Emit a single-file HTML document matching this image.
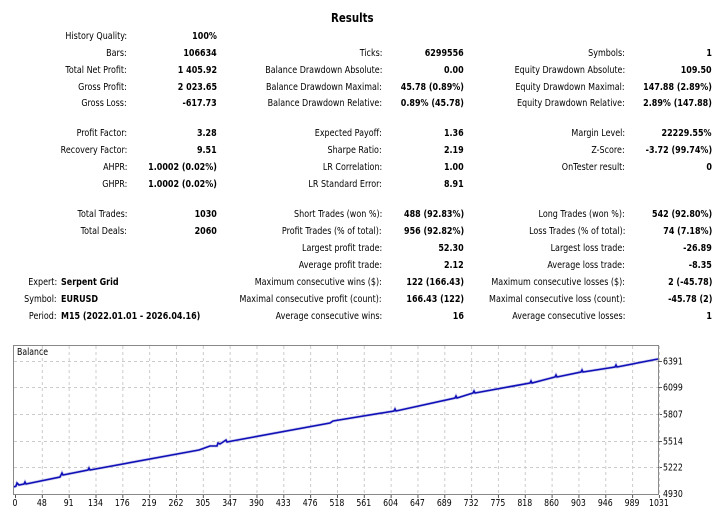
<!DOCTYPE html>
<html><head><meta charset="utf-8"><style>
body{margin:0;width:720px;height:517px;background:#fff;position:relative;overflow:hidden;font-family:"DejaVu Sans","Liberation Sans",sans-serif;color:#000}
.t{position:absolute;font-size:10px;white-space:nowrap;line-height:12px;transform:scaleX(0.8);transform-origin:right center}
.l{position:absolute;font-size:10px;white-space:nowrap;line-height:12px;transform:scaleX(0.8);transform-origin:left center}
.b{font-weight:bold}
</style></head><body>
<div style="position:absolute;left:331px;top:11px;font-size:12px;font-weight:bold;font-family:'DejaVu Sans',sans-serif;transform:scaleX(0.85);transform-origin:left">Results</div>
<div id="tx"></div>
<svg width="720" height="517" style="position:absolute;left:0;top:0">
<g id="g"></g>
</svg>
<script>
var rows=[
[31,"History Quality:","100%"],[48,"Bars:","106634","Ticks:","6299556","Symbols:","1"],
[65,"Total Net Profit:","1 405.92","Balance Drawdown Absolute:","0.00","Equity Drawdown Absolute:","109.50"],
[82,"Gross Profit:","2 023.65","Balance Drawdown Maximal:","45.78 (0.89%)","Equity Drawdown Maximal:","147.88 (2.89%)"],
[98,"Gross Loss:","-617.73","Balance Drawdown Relative:","0.89% (45.78)","Equity Drawdown Relative:","2.89% (147.88)"],
[128,"Profit Factor:","3.28","Expected Payoff:","1.36","Margin Level:","22229.55%"],
[145,"Recovery Factor:","9.51","Sharpe Ratio:","2.19","Z-Score:","-3.72 (99.74%)"],
[162,"AHPR:","1.0002 (0.02%)","LR Correlation:","1.00","OnTester result:","0"],
[179,"GHPR:","1.0002 (0.02%)","LR Standard Error:","8.91"],
[209,"Total Trades:","1030","Short Trades (won %):","488 (92.83%)","Long Trades (won %):","542 (92.80%)"],
[226,"Total Deals:","2060","Profit Trades (% of total):","956 (92.82%)","Loss Trades (% of total):","74 (7.18%)"],
[243,"","","Largest profit trade:","52.30","Largest loss trade:","-26.89"],
[260,"","","Average profit trade:","2.12","Average loss trade:","-8.35"],
[277,"","","Maximum consecutive wins ($):","122 (166.43)","Maximum consecutive losses ($):","2 (-45.78)"],
[294,"","","Maximal consecutive profit (count):","166.43 (122)","Maximal consecutive loss (count):","-45.78 (2)"],
[311,"","","Average consecutive wins:","16","Average consecutive losses:","1"]];
var xs=[127,217,382,464,625,712],h="";
rows.forEach(function(r){for(var i=1;i<r.length;i++){if(!r[i])continue;h+='<div class="t'+(i%2==0?' b':'')+'" style="right:'+(720-xs[i-1])+'px;top:'+r[0]+'px">'+r[i]+'</div>';}});
[[277,"Expert:","Serpent Grid"],[294,"Symbol:","EURUSD"],[311,"Period:","M15 (2022.01.01 - 2026.04.16)"]].forEach(function(r){
h+='<div class="t" style="right:'+(720-57)+'px;top:'+r[0]+'px">'+r[1]+'</div><div class="l b" style="left:61px;top:'+r[0]+'px">'+r[2]+'</div>';});
document.getElementById('tx').innerHTML=h;
function sx(x){return 'transform="translate('+x+',0) scale(0.82,1) translate('+(-x)+',0)"';}
var s='<rect x="13.5" y="345.5" width="645" height="149" fill="#fff" stroke="#888"/>';
var ys=[361,387,414,441,467],yl=["6391","6099","5807","5514","5222"];
ys.forEach(function(y,i){s+='<line x1="14" x2="658" y1="'+(y+0.5)+'' +'" y2="'+(y+0.5)+'" stroke="#ccc" stroke-dasharray="3,3"/><line x1="658" x2="662" y1="'+(y+0.5)+'" y2="'+(y+0.5)+'" stroke="#555"/><text x="663" y="'+(y+3.5)+'" font-size="9.5" font-family="DejaVu Sans" '+sx(663)+'>'+yl[i]+'</text>';});
s+='<text x="663" y="497" font-size="9.5" font-family="DejaVu Sans" '+sx(663)+'>4930</text>';
var xl=["0","48","91","134","176","219","262","305","347","390","433","476","518","561","604","647","689","732","775","818","860","903","946","989","1031"];
xl.forEach(function(l,i){var x=15+i*26.83;if(i>0)s+='<line x1="'+(x+.5)+'" x2="'+(x+.5)+'" y1="346" y2="494" stroke="#ccc" stroke-dasharray="3,3"/>';s+='<line x1="'+(x+.5)+'" x2="'+(x+.5)+'" y1="495" y2="498" stroke="#555"/><text x="'+x+'" y="506" font-size="9.5" font-family="DejaVu Sans" text-anchor="middle" '+sx(x)+'>'+l+'</text>';});
s+='<text x="17" y="355" font-size="9.5" font-family="DejaVu Sans" '+sx(17)+'>Balance</text>';
var p=[[14,487],[16,486],[17,483],[19,485],[24,484],[25,482],[26,484],[60,477],[62,473],[63,475],[88,470],[89,468],[90,470],[199,450],[210,446],[217,446],[218,443],[220,444],[226,440],[227,442],[232,441],[330,423],[333,421],[394,411],[395,409],[396,411],[455,398],[456,396],[457,398],[473,393],[474,391],[475,393],[530,383],[531,381],[532,383],[555,377],[556,375],[557,377],[581,372],[582,370],[583,372],[615,367],[616,365],[617,367],[658,359]];
s+='<polyline fill="none" stroke="#a9a9e0" stroke-width="3" opacity="0.5" points="'+p.join(' ')+'"/><polyline fill="none" stroke="#1010b8" stroke-width="1.6" points="'+p.join(' ')+'"/>';
document.getElementById('g').innerHTML=s;
</script>
</body></html>
